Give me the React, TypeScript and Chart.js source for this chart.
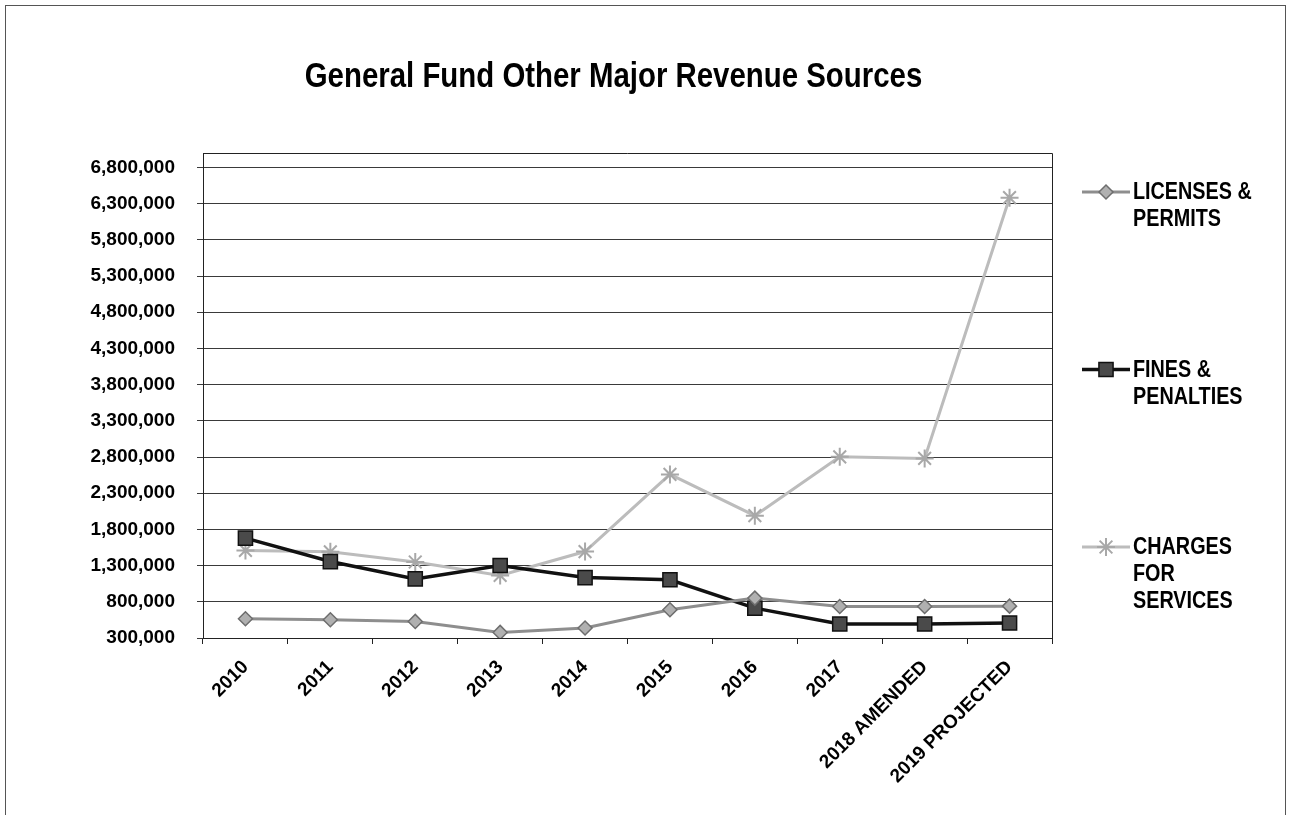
import React, { useEffect, useRef } from 'react';
import { Chart, registerables } from 'chart.js';
import { drawPoint } from 'chart.js/helpers';

Chart.register(...registerables);

const TITLE = 'General Fund Other Major Revenue Sources';
const CATEGORIES = ['2010', '2011', '2012', '2013', '2014', '2015', '2016', '2017', '2018 AMENDED', '2019 PROJECTED'];
const SERIES_LABELS = ['LICENSES & PERMITS', 'FINES & PENALTIES', 'CHARGES FOR SERVICES'];
const LICENSES = [566000, 552000, 529000, 377000, 438000, 690000, 851000, 736000, 736000, 740000];
const FINES = [1680000, 1356000, 1117000, 1301000, 1135000, 1104000, 713000, 493000, 493000, 507000];
const CHARGES = [1510000, 1490000, 1350000, 1165000, 1494000, 2560000, 1990000, 2803000, 2781000, 6383000];
const Y_MIN = 300000;
const Y_MAX = 7000000;
const Y_TICKS = [300000, 800000, 1300000, 1800000, 2300000, 2800000, 3300000, 3800000, 4300000, 4800000, 5300000, 5800000, 6300000, 6800000];

const SANS = '"Liberation Sans", Arial, sans-serif';

function wrapWords(ctx: CanvasRenderingContext2D, text: string, maxW: number): string[] {
  const words = text.split(' ');
  const lines: string[] = [];
  let cur = '';
  for (const w of words) {
    const test = cur ? cur + ' ' + w : w;
    if (cur && ctx.measureText(test).width > maxW) {
      lines.push(cur);
      cur = w;
    } else {
      cur = test;
    }
  }
  if (cur) lines.push(cur);
  return lines;
}

function condensedText(ctx: CanvasRenderingContext2D, text: string, x: number, y: number, sx: number) {
  ctx.save();
  ctx.translate(x, y);
  ctx.scale(sx, 1);
  ctx.fillText(text, 0, 0);
  ctx.restore();
}

const decorPlugin = {
  id: 'decor',
  afterDraw(chart: any) {
    const { ctx, chartArea: a } = chart;
    ctx.save();
    // plot-area frame (top and right edges)
    ctx.strokeStyle = '#222';
    ctx.lineWidth = 1;
    ctx.beginPath();
    ctx.moveTo(a.left, Math.round(a.top) + 0.5);
    ctx.lineTo(Math.round(a.right) + 0.5, Math.round(a.top) + 0.5);
    ctx.lineTo(Math.round(a.right) + 0.5, a.bottom);
    ctx.stroke();

    // title
    ctx.font = `bold 35px ${SANS}`;
    ctx.fillStyle = '#000';
    ctx.textAlign = 'center';
    ctx.textBaseline = 'alphabetic';
    condensedText(ctx, TITLE, 613.5, 87, 0.84);

    // legend
    const sx = 0.86;
    ctx.font = `bold 23px ${SANS}`;
    chart.data.datasets.forEach((ds: any, i: number) => {
      const y = 192 + i * 177.5;
      ctx.strokeStyle = ds.borderColor;
      ctx.lineWidth = ds.borderWidth;
      ctx.beginPath();
      ctx.moveTo(1082, y);
      ctx.lineTo(1130, y);
      ctx.stroke();
      ctx.fillStyle = ds.pointBackgroundColor;
      ctx.strokeStyle = ds.pointBorderColor;
      ctx.lineWidth = ds.pointBorderWidth;
      drawPoint(ctx, { pointStyle: ds.pointStyle, radius: ds.pointRadius, borderWidth: ds.pointBorderWidth, rotation: 0 } as any, 1106, y);
      ctx.fillStyle = '#000';
      ctx.textAlign = 'left';
      ctx.textBaseline = 'middle';
      const lines = wrapWords(ctx, ds.label, 130 / sx);
      lines.forEach((ln, j) => condensedText(ctx, ln, 1133, y + 1 + j * 27, sx));
    });
    ctx.restore();
  },
};

export default function App() {
  const ref = useRef<HTMLCanvasElement | null>(null);
  useEffect(() => {
    if (!ref.current) return;
    const chart = new Chart(ref.current, {
      type: 'line',
      data: {
        labels: CATEGORIES,
        datasets: [
          {
            label: SERIES_LABELS[0],
            data: LICENSES,
            borderColor: '#8e8e8e',
            borderWidth: 3,
            pointStyle: 'rectRot',
            pointRadius: 7,
            pointBackgroundColor: '#b0b0b0',
            pointBorderColor: '#6e6e6e',
            pointBorderWidth: 1.5,
            tension: 0,
          },
          {
            label: SERIES_LABELS[1],
            data: FINES,
            borderColor: '#111111',
            borderWidth: 3.5,
            pointStyle: 'rect',
            pointRadius: 10,
            pointBackgroundColor: '#4a4a4a',
            pointBorderColor: '#111111',
            pointBorderWidth: 1.5,
            tension: 0,
          },
          {
            label: SERIES_LABELS[2],
            data: CHARGES,
            borderColor: '#bcbcbc',
            borderWidth: 3,
            pointStyle: 'star',
            pointRadius: 9,
            pointBackgroundColor: '#c8c8c8',
            pointBorderColor: '#a8a8a8',
            pointBorderWidth: 2,
            tension: 0,
          },
        ],
      },
      options: {
        animation: false,
        responsive: false,
        devicePixelRatio: 1,
        layout: { padding: { left: 0, top: 153, right: 240, bottom: 7 } },
        plugins: {
          legend: { display: false },
          title: { display: false },
          tooltip: { enabled: false },
        },
        scales: {
          x: {
            type: 'category',
            offset: true,
            afterFit: (s: any) => { s.height = 170; },
            grid: { display: true, drawOnChartArea: false, drawTicks: true, tickLength: 6, offset: true, color: '#222' },
            border: { display: true, color: '#222', width: 1 },
            ticks: {
              autoSkip: false,
              minRotation: 45,
              maxRotation: 45,
              color: '#000',
              padding: 12,
              font: { family: SANS, size: 19, weight: 'bold' },
            },
          },
          y: {
            type: 'linear',
            min: Y_MIN,
            max: Y_MAX,
            afterFit: (s: any) => { s.width = 203; },
            afterBuildTicks: (s: any) => { s.ticks = Y_TICKS.map((v) => ({ value: v })); },
            grid: { color: '#3a3a3a', lineWidth: 1, drawTicks: true, tickLength: 6 },
            border: { display: true, color: '#222', width: 1 },
            ticks: {
              color: '#000',
              padding: 22,
              font: { family: SANS, size: 19, weight: 'bold' },
              callback: (v: any) => Number(v).toLocaleString('en-US'),
            },
          },
        },
      },
      plugins: [decorPlugin],
    });
    return () => chart.destroy();
  }, []);

  return (
    <div style={{ position: 'fixed', left: 0, top: 0, width: 1292, height: 815, background: '#fff' }}>
      <div style={{ position: 'absolute', left: 5, top: 5, width: 1281, height: 900, border: '1px solid #555', boxSizing: 'border-box' }} />
      <canvas ref={ref} width={1292} height={815} style={{ position: 'absolute', left: 0, top: 0, width: 1292, height: 815 }} />
    </div>
  );
}
